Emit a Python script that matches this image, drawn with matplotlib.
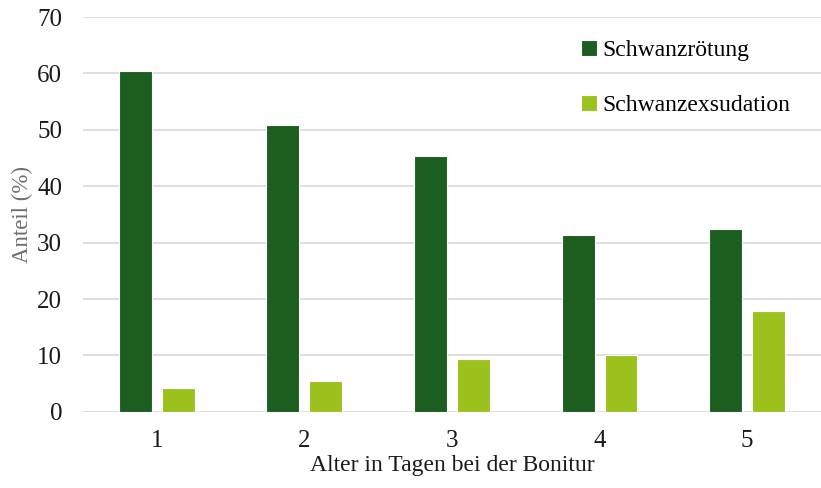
import matplotlib
matplotlib.use("Agg")
import matplotlib.pyplot as plt
import numpy as np

# data
tage = ["1", "2", "3", "4", "5"]
roetung = [60.5, 50.8, 45.4, 31.4, 32.5]
exsudation = [4.2, 5.4, 9.3, 10.0, 17.8]

plt.rcParams['font.family'] = ['Liberation Serif', 'DejaVu Serif']

fig = plt.figure(figsize=(8.21, 4.88), dpi=100)
ax = fig.add_axes([0.101, 0.156, 0.899, 0.809])

x = np.arange(1, len(tage) + 1)
w = 0.223
ax.bar(x - 0.145, roetung, w, color="#1b5e20", edgecolor="white", linewidth=0.8,
       label="Schwanzrötung", zorder=3)
ax.bar(x + 0.145, exsudation, w, color="#9bc21c", edgecolor="white", linewidth=0.8,
       label="Schwanzexsudation", zorder=3)

ax.set_xlim(0.5, 5.5)
ax.set_ylim(0, 70)
ax.set_yticks(range(0, 71, 10))
ax.set_xticks(x)
ax.set_xticklabels(tage)
ax.grid(axis="y", color="#d9d9d9", linewidth=1.2, zorder=0)
for s in ax.spines.values():
    s.set_visible(False)
ax.tick_params(length=0, labelsize=18, colors="#1a1a1a")
ax.tick_params(axis="x", pad=13)
ax.tick_params(axis="y", pad=15)

ax.set_xlabel("Alter in Tagen bei der Bonitur", fontsize=17, color="#1a1a1a", labelpad=2)
ax.set_ylabel("Anteil (%)", fontsize=16.5, color="#6e6e6e", labelpad=3)

leg = fig.legend(loc="upper left", bbox_to_anchor=(0.682, 0.962), frameon=False,
                 fontsize=17, handlelength=0.65, handleheight=0.65, handletextpad=0.25,
                 labelspacing=1.45)

fig.savefig("out.png", dpi=100)
